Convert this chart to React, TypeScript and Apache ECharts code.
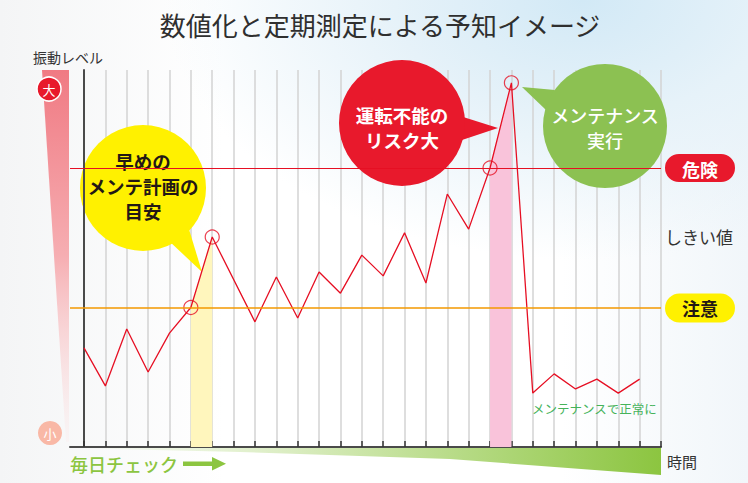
import React, { useEffect, useRef } from "react";
import * as echarts from "echarts";

// ---- data ----
const days = [0, 1, 2, 3, 4, 5, 6, 8, 9, 10, 11, 12, 13, 14, 15, 16, 17, 18, 19, 20, 21, 22, 23, 24, 25, 26];
const levels = [26.3, 16.2, 31.3, 19.9, 30.2, 37, 55.7, 33.2, 45.1, 34.2, 46.4, 40.8, 50.9, 45.4, 56.8, 43.5, 67.1, 57.8, 74, 96.6, 14.3, 19.4, 15.4, 18.0, 14.3, 18.0];
const tickDays = [0, 1, 2, 3, 4, 5, 6, 7, 8, 9, 10, 11, 12, 13, 14, 15, 16, 17, 18, 19, 20, 21, 22, 23, 24, 25, 26, 27];
const markedDays = [5, 6, 19, 20];
const earlyBand = [5, 6];
const riskBand = [19, 20];
const dangerLevel = 74;
const cautionLevel = 37;

const titleText = "数値化と定期測定による予知イメージ";
const yName = "振動レベル";
const xName = "時間";
const dailyText = "毎日チェック";
const dangerText = "危険";
const cautionText = "注意";
const thresholdText = "しきい値";
const normalText = "メンテナンスで正常に";
const bubbleEarly = ["早めの", "メンテ計画の", "目安"];
const bubbleRisk = ["運転不能の", "リスク大"];
const bubbleMaint = ["メンテナンス", "実行"];

const FONT = '"Noto Sans CJK JP", "Noto Sans", sans-serif';
const RED = "#e60f23";

const pairsFor = (list: number[]) =>
  list.map((d) => [d, levels[days.indexOf(d)]]);

export default function App() {
  const ref = useRef<HTMLDivElement>(null);

  useEffect(() => {
    if (!ref.current) return;
    const chart = echarts.init(ref.current, null, { renderer: "svg" });

    chart.setOption({
      animation: false,
      grid: { left: 70, right: 87, top: 70, bottom: 36, outerBoundsMode: "none" },
      xAxis: {
        type: "value",
        min: -0.655,
        max: 27,
        axisLine: { show: true, lineStyle: { color: "#4a4a4a", width: 2 } },
        axisTick: {
          show: true,
          inside: true,
          length: 6,
          customValues: tickDays,
          lineStyle: { color: "#333", width: 1.5 },
        },
        axisLabel: { show: false },
        splitLine: { show: true, lineStyle: { color: "#d3d3d3", width: 1.5 } },
      },
      yAxis: {
        type: "value",
        min: 0,
        max: 100,
        axisLine: { show: true, lineStyle: { color: "#4a4a4a", width: 2 } },
        axisTick: { show: false },
        axisLabel: { show: false },
        splitLine: { show: false },
      },
      series: [
        {
          type: "line",
          data: pairsFor(earlyBand),
          symbol: "none",
          lineStyle: { width: 0 },
          areaStyle: { color: "#fff6bd", opacity: 1 },
          z: 1,
          silent: true,
        },
        {
          type: "line",
          data: pairsFor(riskBand),
          symbol: "none",
          lineStyle: { width: 0 },
          areaStyle: { color: "#f9c3da", opacity: 1 },
          z: 1,
          silent: true,
        },
        {
          type: "line",
          data: days.map((d, i) => [d, levels[i]]),
          symbol: "none",
          lineStyle: { color: RED, width: 1.3 },
          z: 3,
          markLine: {
            silent: true,
            symbol: "none",
            label: { show: false },
            data: [
              { yAxis: dangerLevel, lineStyle: { color: RED, width: 1.2, type: "solid" } },
              { yAxis: cautionLevel, lineStyle: { color: "#f39800", width: 1.5, type: "solid" } },
            ],
          },
        },
        {
          type: "scatter",
          data: pairsFor(markedDays),
          symbol: "circle",
          symbolSize: 14,
          itemStyle: { color: "rgba(0,0,0,0)", borderColor: RED, borderWidth: 1.2 },
          z: 4,
        },
      ],
    });

    const yDanger = chart.convertToPixel({ gridIndex: 0 }, [0, dangerLevel])[1];
    const yCaution = chart.convertToPixel({ gridIndex: 0 }, [0, cautionLevel])[1];

    const bubble = (
      cx: number, cy: number, r: number, tail: number[][], fill: string,
      lines: string[], color: string, size: number, weight: any, lh: number, ty: number
    ) => ({
      type: "group",
      z: 100,
      children: [
        { type: "polygon", shape: { points: tail }, style: { fill } },
        { type: "circle", shape: { cx, cy, r }, style: { fill } },
        ...lines.map((t, i) => ({
          type: "text",
          x: cx,
          y: ty + i * lh,
          style: {
            text: t,
            fill: color,
            font: `${weight} ${size}px ${FONT}`,
            align: "center",
            verticalAlign: "middle",
          },
        })),
      ],
    });

    chart.setOption({
      graphic: [
        // title
        {
          type: "text",
          x: 380,
          y: 24,
          style: {
            text: titleText,
            fill: "#2f2f2f",
            font: `normal 26px ${FONT}`,
            align: "center",
            verticalAlign: "middle",
          },
        },
        // y name
        {
          type: "text",
          x: 33,
          y: 57,
          style: { text: yName, fill: "#333", font: `normal 14px ${FONT}`, verticalAlign: "middle" },
        },
        // left wedge
        {
          type: "polygon",
          z: -1,
          shape: { points: [[42, 70], [69, 70], [69, 442], [66, 442]] },
          style: {
            fill: new echarts.graphic.LinearGradient(0, 0, 0, 1, [
              { offset: 0, color: "#f07a83" },
              { offset: 0.5, color: "#f6aeb2" },
              { offset: 1, color: "rgba(252,228,228,0.2)" },
            ]),
          },
        },
        {
          type: "group",
          children: [
            { type: "circle", shape: { cx: 49, cy: 89, r: 12 }, style: { fill: "#e8192c", stroke: "#fff", lineWidth: 1.5 } },
            { type: "text", x: 49, y: 89, style: { text: "大", fill: "#fff", font: `normal 13px ${FONT}`, align: "center", verticalAlign: "middle" } },
            { type: "circle", shape: { cx: 50, cy: 433, r: 12 }, style: { fill: "#f9b8a6" } },
            { type: "text", x: 50, y: 433, style: { text: "小", fill: "#fff", font: `normal 13px ${FONT}`, align: "center", verticalAlign: "middle" } },
          ],
        },
        // bottom wedge
        {
          type: "polygon",
          z: -1,
          shape: { points: [[70, 448], [661, 448], [661, 475], [450, 459], [240, 452]] },
          style: {
            fill: new echarts.graphic.LinearGradient(0, 0, 1, 0, [
              { offset: 0, color: "rgba(141,198,63,0)" },
              { offset: 0.35, color: "rgba(141,198,63,0.3)" },
              { offset: 1, color: "#8cc540" },
            ]),
          },
        },
        {
          type: "text",
          x: 70,
          y: 464,
          style: { text: dailyText, fill: "#8cc540", font: `500 18px ${FONT}`, verticalAlign: "middle" },
        },
        { type: "rect", shape: { x: 183, y: 461.5, width: 31, height: 4.5 }, style: { fill: "#8cc540" } },
        { type: "polygon", shape: { points: [[212, 457], [226, 463.7], [212, 470.5]] }, style: { fill: "#8cc540" } },
        {
          type: "text",
          x: 667,
          y: 461,
          style: { text: xName, fill: "#333", font: `normal 15px ${FONT}`, verticalAlign: "middle" },
        },
        // right labels
        { type: "rect", shape: { x: 665, y: yDanger - 14, width: 70, height: 28, r: 14 }, style: { fill: "#e8192c" } },
        {
          type: "text", x: 700, y: yDanger + 0.5,
          style: { text: dangerText, fill: "#fff", font: `bold 18px ${FONT}`, align: "center", verticalAlign: "middle" },
        },
        { type: "rect", shape: { x: 665, y: yCaution - 14, width: 70, height: 29, r: 14.5 }, style: { fill: "#fff100" } },
        {
          type: "text", x: 700, y: yCaution + 0.5,
          style: { text: cautionText, fill: "#231815", font: `bold 18px ${FONT}`, align: "center", verticalAlign: "middle" },
        },
        {
          type: "text", x: 665, y: 236,
          style: { text: thresholdText, fill: "#333", font: `normal 17px ${FONT}`, verticalAlign: "middle" },
        },
        {
          type: "text", x: 532, y: 408,
          style: { text: normalText, fill: "#45b35a", font: `normal 12.5px ${FONT}`, verticalAlign: "middle" },
        },
        // bubbles
        bubble(143, 188, 63, [[168, 240], [188, 226], [202, 272]], "#fff100", bubbleEarly, "#231815", 18.5, "bold", 25, 161),
        bubble(402, 123, 63, [[460, 116], [498, 128], [456, 142]], "#e8192c", bubbleRisk, "#fff", 18.5, "bold", 25, 114.5),
        bubble(605, 126, 62, [[555, 90], [522, 87], [546, 110]], "#8cc152", bubbleMaint, "#fff", 18, "500", 25, 115),
      ],
    });

    return () => chart.dispose();
  }, []);

  return (
    <div
      style={{
        position: "fixed",
        left: 0,
        top: 0,
        width: 748,
        height: 483,
        background:
          "radial-gradient(ellipse 420px 260px at 78% 0%, #d2e9f6 0%, #e6f2f9 45%, rgba(255,255,255,0) 100%), linear-gradient(90deg, #f4f5f6 0%, #ffffff 30%, #ffffff 75%, #f1f6fa 100%)",
      }}
    >
      <div ref={ref} style={{ width: 748, height: 483 }} />
    </div>
  );
}
